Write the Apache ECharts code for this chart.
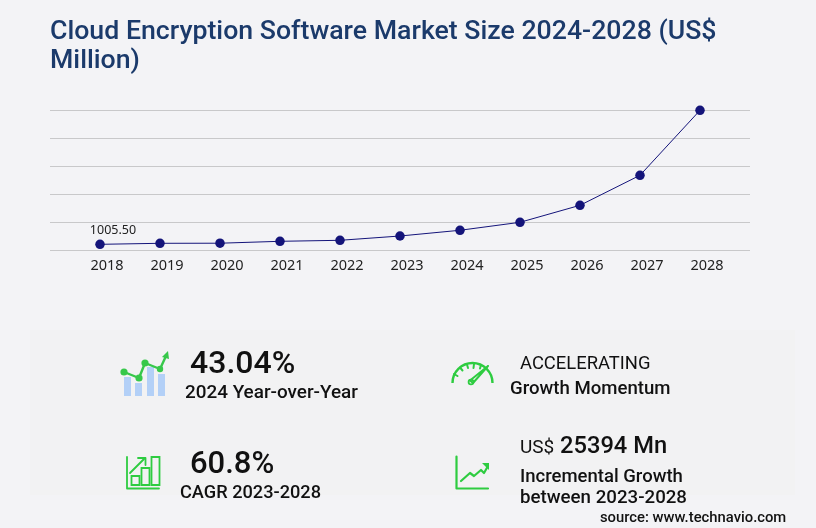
<!DOCTYPE html>
<html><head><meta charset="utf-8">
<style>html,body{margin:0;padding:0;background:#f3f3f6}#c{width:816px;height:528px}</style>
<script src="https://cdn.jsdelivr.net/npm/echarts@6/dist/echarts.min.js"></script>
</head><body><div id="c"></div>
<script>
const years = ['2018','2019','2020','2021','2022','2023','2024','2025','2026','2027','2028'];
const sizes = [1005.5,1212,1230,1616,1818,2684,3843,5454,8888,14948,28078];
const yTop = 28078;
const titleText = 'Cloud Encryption Software Market Size 2024-2028 (US$\nMillion)';
const firstLabel = '1005.50';

const G='#2ecc40', F='Roboto', D='#111';
function txt(x,base,s,size,w,c){return {type:'text',x:x,y:base-0.79*size,silent:true,z:10,style:{text:s,fontFamily:F,fontSize:size,fontWeight:w||500,fill:c||D}};}
function ln(pts,wd,c){return {type:'polyline',silent:true,z:9,shape:{points:pts},style:{stroke:c||G,lineWidth:wd||2,fill:null,lineCap:'round',lineJoin:'round'}};}
function rect(x,y,w,h,s){return {type:'rect',silent:true,z:9,shape:{x:x,y:y,width:w,height:h},style:s};}
function dot(x,y,r){return {type:'circle',silent:true,z:10,shape:{cx:x,cy:y,r:r},style:{fill:'#37c84a'}};}

const gfx=[
 rect(30,330,765,165,{fill:'#f2f2f3'}),
 // icon 1
 rect(124,377,7,19,{fill:'#b3d0f7'}),rect(135,383,7,13,{fill:'#b3d0f7'}),rect(147,367,7,29,{fill:'#b3d0f7'}),rect(158,374,7,22,{fill:'#b3d0f7'}),
 ln([[124,372],[139,378],[145,363],[160,369],[166,356]],2.4,'#37c84a'),
 dot(124,372,3.6),dot(139,378,3.6),dot(145,363,3.6),dot(160,369,3.2),
 {type:'polygon',silent:true,z:10,shape:{points:[[168,351],[169,359],[162,357]]},style:{fill:'#37c84a'}},
 // icon 2
 ln([[127,457],[127,488.5],[159,488.5]],1.8),
 ln([[130,473],[145,458]],1.8),ln([[138,458],[145.5,458],[145.5,465]],1.8),
 rect(131.5,476,8,9,{stroke:G,lineWidth:1.8,fill:null}),
 rect(141.5,468,8,17,{stroke:G,lineWidth:1.8,fill:null}),
 rect(151.5,457,8,28,{stroke:G,lineWidth:1.8,fill:null}),
 // icon 3 gauge
 {type:'arc',silent:true,z:9,shape:{cx:472.5,cy:383,r:20,startAngle:Math.PI,endAngle:2*Math.PI},style:{stroke:G,lineWidth:2.4,fill:null}},
 ln([[454,374],[457.5,376]],2),ln([[460,367.5],[462.5,370.5]],2),ln([[467,364.5],[468,368]],2),ln([[474,364],[473.5,368]],2),ln([[481,365],[480,368.5]],2),
 ln([[488,366],[473,383],[470,380.5],[488,366]],2),
 {type:'circle',silent:true,z:9,shape:{cx:471,cy:382,r:2.4},style:{stroke:G,lineWidth:1.8,fill:null}},
 // icon 4
 ln([[456.5,456.5],[456.5,488.5],[488,488.5]],2.2),
 ln([[461,481],[470,473],[474,476],[481,470],[484,473],[488,466]],2.2),
 {type:'polygon',silent:true,z:10,shape:{points:[[482,463],[489,463],[489,470]]},style:{fill:G}},
 // texts
 txt(190,374,'43.04%',32),
 txt(185,399,'2024 Year-over-Year',18.9),
 txt(190,474,'60.8%',31),
 txt(180,499,'CAGR 2023-2028',18.2),
 txt(520,370,'ACCELERATING',18.4,400),
 txt(510,395,'Growth Momentum',18.6),
 txt(520,454,'US$',19,400),
 txt(560,454,'25394 Mn',23.7),
 txt(520,482,'Incremental Growth',18.5),
 txt(520,504,'between 2023-2028',18.7),
 txt(600,522,'source: www.technavio.com',14.8)
];

const chart=echarts.init(document.getElementById('c'),null,{renderer:'canvas'});
chart.setOption({
 animation:false,
 backgroundColor:'#f3f3f6',
 title:{text:titleText,left:50,top:18,padding:0,textStyle:{fontFamily:F,fontSize:26.7,fontWeight:500,color:'#1b3a6b',lineHeight:29}},
 grid:[
  {left:100,width:600,top:110.3,height:139,containLabel:false},
  {left:50,width:700,top:110.5,height:140}
 ],
 xAxis:[
  {gridIndex:0,type:'category',data:years,boundaryGap:false,axisLine:{show:false},axisTick:{show:false},
   axisLabel:{show:true,interval:0,margin:9,padding:[0,0,0,14],fontFamily:'Noto Sans',fontSize:14.5,color:'#222'}},
  {gridIndex:1,type:'category',data:years,show:false}
 ],
 yAxis:[
  {gridIndex:0,type:'value',min:0,max:yTop,show:false,splitLine:{show:false}},
  {gridIndex:1,type:'value',min:0,max:5,interval:1,axisLabel:{show:false},axisLine:{show:false},axisTick:{show:false},splitLine:{show:true,lineStyle:{color:'#c8c8ca',width:1}}}
 ],
 series:[{type:'line',xAxisIndex:0,yAxisIndex:0,data:sizes.map((v,i)=>i===0?{value:v,label:{show:true,formatter:firstLabel,position:'top',offset:[13,1],distance:4,fontFamily:'Noto Sans',fontSize:12.5,color:'#222'}}:v),
  symbol:'circle',symbolSize:9.5,lineStyle:{color:'#14147a',width:1},itemStyle:{color:'#14147a'},z:5}],
 graphic:{elements:gfx}
});
</script></body></html>
